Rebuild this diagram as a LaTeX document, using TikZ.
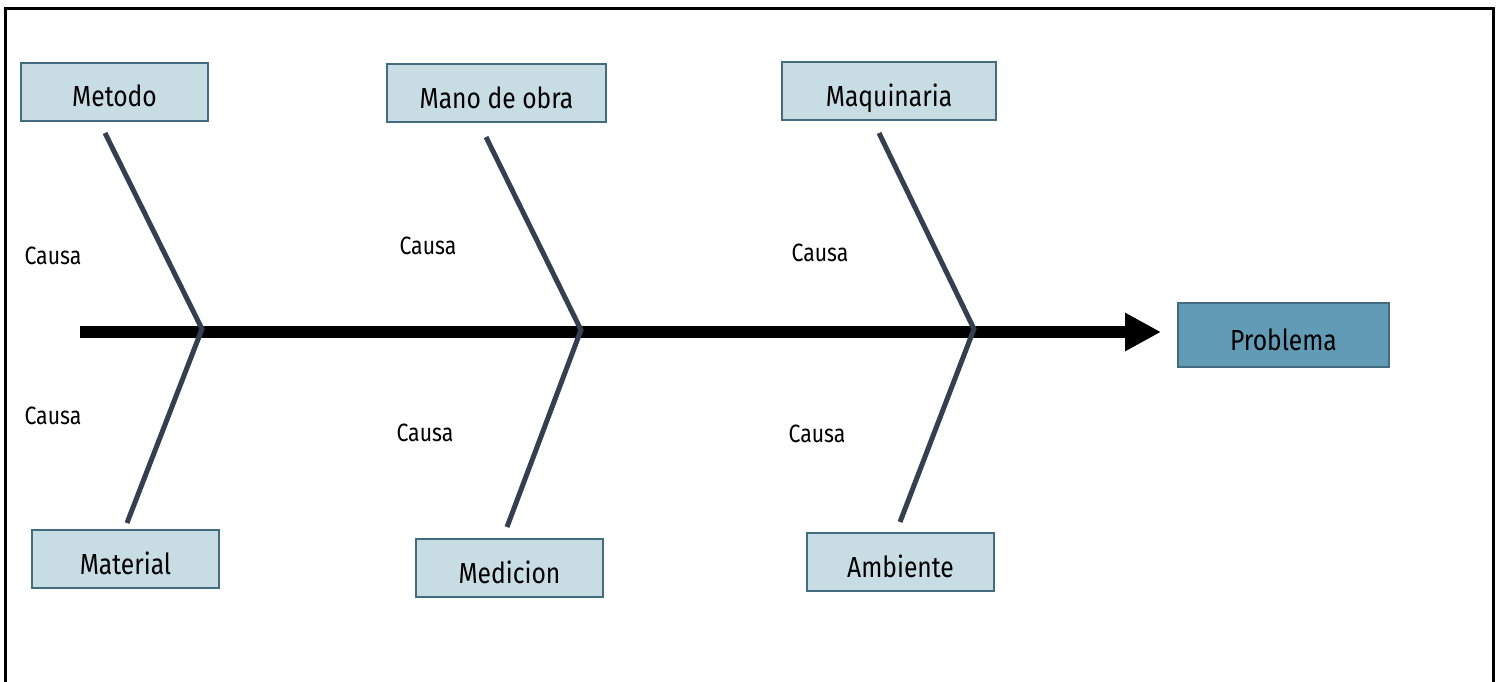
\documentclass[tikz,border=0pt]{standalone}
\usepackage{fontspec}
\setmainfont{Fira Sans}[FakeStretch=0.85]
\usetikzlibrary{arrows.meta}
\definecolor{boxfill}{HTML}{C8DCE4}
\definecolor{boxline}{HTML}{436C80}
\definecolor{probfill}{HTML}{619BB5}
\definecolor{bone}{HTML}{343F52}
\tikzset{
  catbox/.style={draw=boxline, line width=2pt, fill=boxfill, minimum height=58pt, inner sep=0pt, text height=30pt, text depth=0pt, font=\fontsize{29}{32}\selectfont},
  probbox/.style={draw=boxline, line width=2pt, fill=probfill, minimum width=211pt, minimum height=64pt, inner sep=0pt, text height=30pt, text depth=0pt, font=\fontsize{29}{32}\selectfont},
  bonestyle/.style={draw=bone, line width=5pt},
  causelbl/.style={font=\fontsize{25}{28}\selectfont, inner sep=0pt},
  spine/.style={line width=12pt, -{Triangle[length=36pt,width=36pt]}, shorten >=16pt}
}
\begin{document}
\begin{tikzpicture}[x=1pt,y=-1pt]
\useasboundingbox (0,0) rectangle (1497,681);
\fill[white] (0,0) rectangle (1497,681);
\draw[line width=3pt] (5,700) -- (5,8) -- (1493,8) -- (1493,700);
% category boxes
\node[catbox, minimum width=187pt] (metodo) at (114.5,91.5) {Metodo};
\node[catbox, minimum width=219pt] (mano) at (496.5,93) {Mano de obra};
\node[catbox, minimum width=214pt] (maq) at (889,91) {Maquinaria};
\node[catbox, minimum width=187pt] (mat) at (125.5,559) {Material};
\node[catbox, minimum width=187pt] (med) at (509.5,568) {Medicion};
\node[catbox, minimum width=187pt] (amb) at (900.5,562) {Ambiente};
\node[probbox] (prob) at (1283.5,335) {Problema};
% spine
\coordinate (tail) at (80,332);
\draw[spine] (tail) -- (tail -| prob.west);
% bones
\coordinate (j1) at (202,329);
\coordinate (j2) at (581,330);
\coordinate (j3) at (974,329);
\coordinate (u1) at (105,133);
\coordinate (l1) at (127,523);
\coordinate (u2) at (486,137);
\coordinate (l2) at (507,527);
\coordinate (u3) at (879,133);
\coordinate (l3) at (900,522);
\draw[bonestyle] (u1) -- (j1) -- (l1);
\draw[bonestyle] (u2) -- (j2) -- (l2);
\draw[bonestyle] (u3) -- (j3) -- (l3);
% cause labels
\node[causelbl] (c1) at (53,256) {Causa};
\node[causelbl] (c2) at (53,416) {Causa};
\node[causelbl] (c3) at (428,246) {Causa};
\node[causelbl] (c4) at (425,433) {Causa};
\node[causelbl] (c5) at (820,253) {Causa};
\node[causelbl] (c6) at (817,434) {Causa};
\end{tikzpicture}
\end{document}
